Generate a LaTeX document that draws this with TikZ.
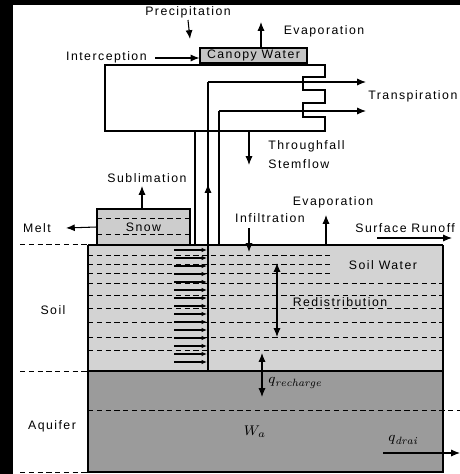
\documentclass[tikz,border=0pt]{standalone}
\usepackage{fontspec}
\setsansfont{Liberation Sans}[LetterSpace=12]
\usepackage{tikz}
\usetikzlibrary{positioning,arrows.meta}
\definecolor{soilgray}{HTML}{D3D3D3}
\definecolor{aquigray}{HTML}{9B9B9B}
\definecolor{snowgray}{HTML}{CDCDCD}
\definecolor{cwgray}{HTML}{C4C4C4}

\begin{document}
\begin{tikzpicture}[
  x=0.02cm, y=-0.02cm,
  lbl/.style={font=\sffamily\fontsize{7}{8.5}\selectfont, inner sep=0pt},
  box/.style={draw, line width=0.6pt, inner sep=0pt,
              font=\sffamily\fontsize{7}{8.5}\selectfont},
  arr/.style={-{Latex[length=5pt,width=4pt]}, line width=0.6pt},
  dbl/.style={{Latex[length=5pt,width=4pt]}-{Latex[length=5pt,width=4pt]}, line width=0.6pt},
  rootarr/.style={-{Latex[length=3pt,width=2.5pt]}, line width=0.6pt},
  wl/.style={dash pattern=on 3pt off 2pt, line width=0.5pt},
  edge/.style={line width=0.6pt}
]
  % frame of the picture
  \fill[black] (0,0) rectangle (460,474);
  \fill[white] (13,5) rectangle (460,474);
  \useasboundingbox (0,0) rectangle (460,474);

  % ground layers
  \fill[soilgray] (88,245) rectangle (443,371);
  \fill[aquigray] (88,371) rectangle (443,472);
  \foreach \y in {255,264,273}
    \draw[wl] (88,\y) -- (330,\y);
  \foreach \y in {283,295,308,322,337,350}
    \draw[wl] (88,\y) -- (443,\y);
  \draw[wl] (88,410) -- (460,410);
  \foreach \y in {244,371,472}
    \draw[wl] (20,\y) -- (88,\y);
  \draw[edge] (88,245) -- (88,472) -- (443,472) -- (443,245);
  \draw[line width=1.2pt] (88,245) -- (443,245);
  \draw[line width=1pt] (88,371) -- (443,371);

  % canopy
  \node[box, fill=cwgray, minimum width=2.14cm, minimum height=0.3cm] (cw) at (253.5,55.5) {Canopy Water};
  \draw[edge] (105,65) -- (325,65) -- (325,77) -- (303,77) -- (303,90) -- (325,90)
    -- (325,103) -- (303,103) -- (303,117) -- (325,117) -- (325,131) -- (105,131) -- cycle;

  % stem and roots
  \coordinate (x1) at (208,82);
  \coordinate (x2) at (219,111);
  \draw[edge] (195,131) -- (195,245);
  \draw[edge] (x1) -- (208,371);
  \draw[edge] (x2) -- (219,245);
  \draw[arr] (208,196) -- (208,184);
  \foreach \y in {250,258,...,362}
    \draw[rootarr] (174,\y) -- (207,\y);

  % snow
  \node[box, fill=snowgray, minimum width=1.86cm, minimum height=0.72cm] (snow) at (143.5,227) {};
  \draw[wl] (97,218) -- (190,218);
  \draw[wl] (97,234) -- (190,234);
  \node[lbl] at (snow.center) {Snow};

  % labels
  \node[lbl] (prec) at (188,12) {Precipitation};
  \node[lbl] (evc) at (324,31) {Evaporation};
  \node[lbl, anchor=east] (icpt) at (147,57) {Interception};
  \node[lbl, anchor=west] (tra) at (368,96) {Transpiration};
  \node[lbl, anchor=west] (thru) at (268,146) {Throughfall};
  \node[lbl, below=4pt of thru.south west, anchor=north west] (stf) {Stemflow};
  \node[lbl] (subl) at (147,178) {Sublimation};
  \node[lbl] (melt) at (37,228) {Melt};
  \node[lbl] (infl) at (270,218) {Infiltration};
  \node[lbl] (evg) at (333,202) {Evaporation};
  \node[lbl, anchor=west] (sro) at (355,228) {Surface Runoff};
  \node[lbl] (soil) at (53,310) {Soil};
  \node[lbl] (aqf) at (52,426) {Aquifer};
  \node[lbl] (sw) at (383,265) {Soil Water};
  \node[lbl] (redis) at (340,302) {Redistribution};
  \node[anchor=west, inner sep=0pt, font=\footnotesize] (qrec) at (268,383) {$q_{\mathit{recharge}}$};
  \node[inner sep=0pt, font=\footnotesize] (wa) at (255,432) {$W_a$};
  \node[anchor=west, inner sep=0pt, font=\footnotesize] (qdr) at (388,440) {$q_{\mathit{drai}}$};

  % fluxes
  \draw[arr] (prec.south |- 0,20) -- (190,39);
  \draw[arr] (261,48) -- (261,22);
  \draw[arr] (155,58) -- (cw.west |- 0,58);
  \draw[arr] (x1) -- (366,82);
  \draw[arr] (x2) -- (366,111);
  \draw[arr] (249,131) -- (249,165);
  \draw[arr] (142,209) -- (142,186);
  \draw[arr] (snow.west) -- (66,228);
  \draw[arr] (249,228) -- (249,252);
  \draw[arr] (326,245) -- (326,215);
  \draw[arr] (377,238) -- (452,238);
  \draw[dbl] (277,263) -- (277,337);
  \draw[dbl] (262,353) -- (262,397);
  \draw[arr] (383,453) -- (460,453);
\end{tikzpicture}
\end{document}
